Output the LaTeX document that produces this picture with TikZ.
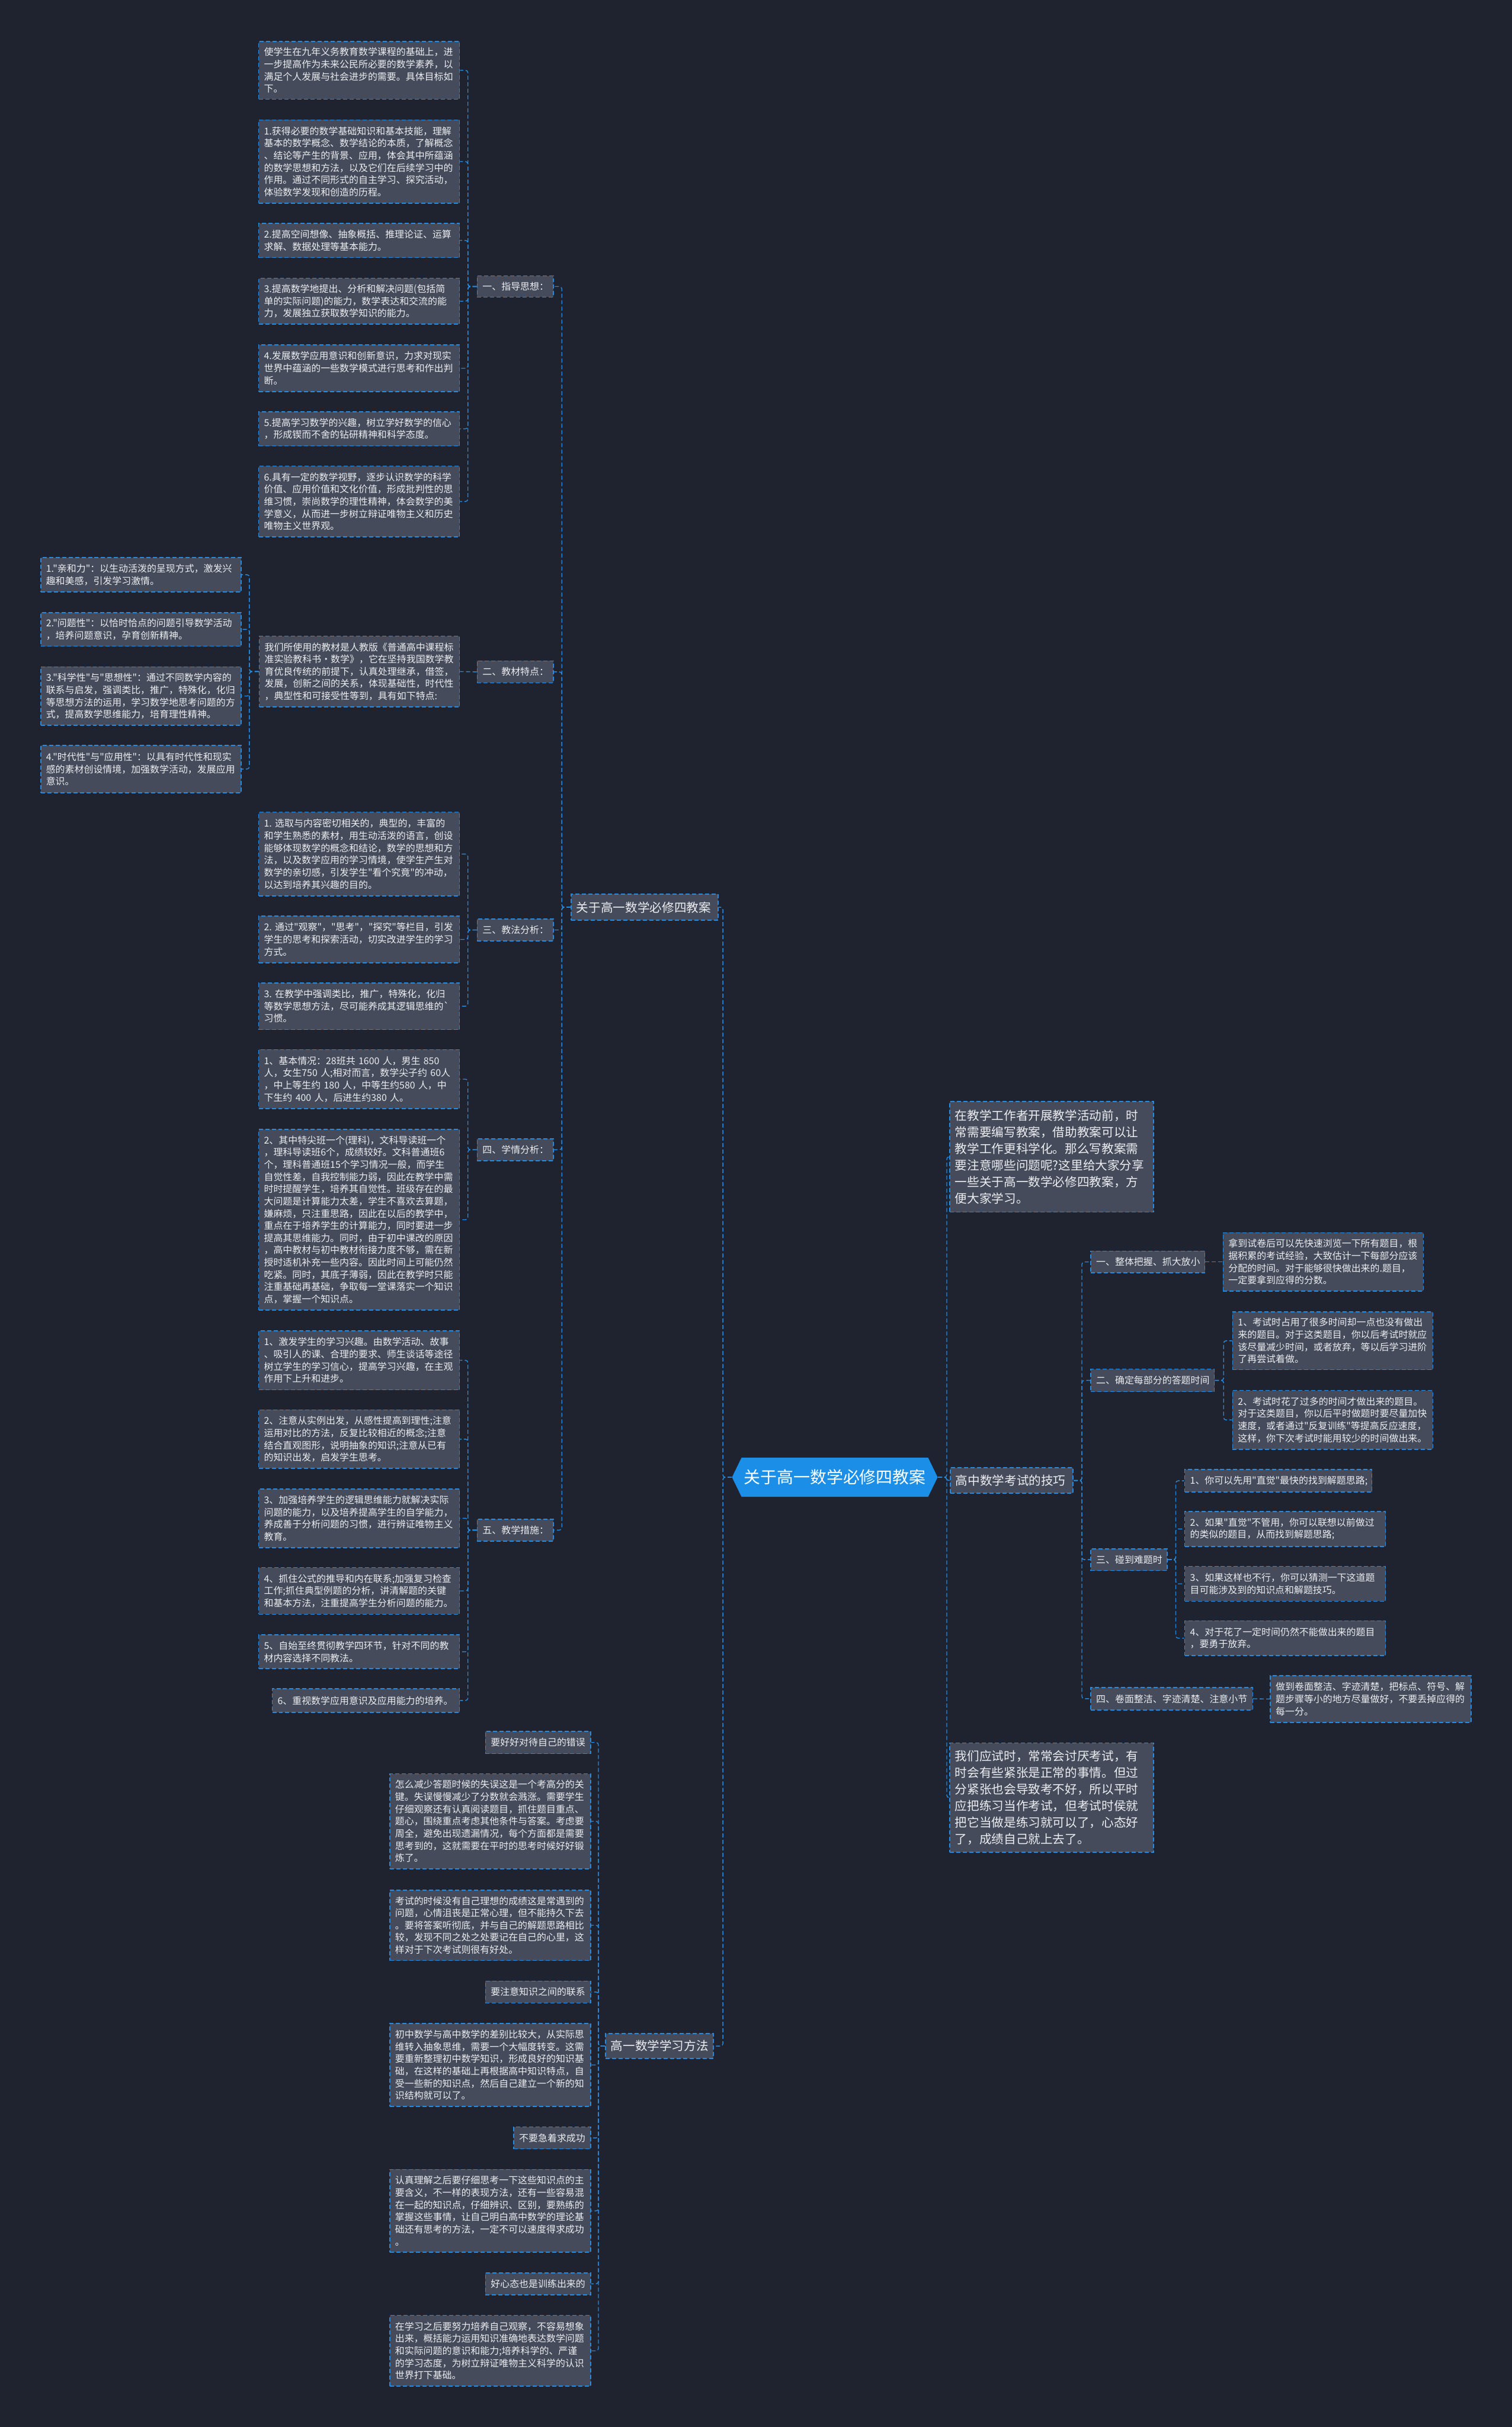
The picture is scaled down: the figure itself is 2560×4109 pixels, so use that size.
\documentclass[tikz,border=0pt]{standalone}
\usepackage{fontspec}
\newfontfamily\cjkf{Noto Sans CJK SC}
\usetikzlibrary{shapes.symbols}
\definecolor{bgc}{RGB}{31,35,47}
\definecolor{boxc}{RGB}{69,75,91}
\definecolor{linec}{RGB}{38,138,222}
\definecolor{txtc}{RGB}{235,237,240}
\definecolor{centc}{RGB}{27,143,232}
\newcommand\ftsmall{\cjkf\fontsize{8pt}{10.35pt}\selectfont}
\newcommand\ftmed{\cjkf\fontsize{10.35pt}{14pt}\selectfont}
\newcommand\ftbig{\cjkf\fontsize{14pt}{17pt}\selectfont}
\tikzset{
 box/.style={draw=linec, line width=0.8pt, dash pattern=on 3.5pt off 2pt, fill=boxc, text=txtc, font=\ftsmall, inner xsep=4.5pt, inner ysep=0pt, align=left, anchor=center},
 med/.style={font=\ftmed},
 conn/.style={draw=linec, line width=0.7pt, dash pattern=on 3.5pt off 2pt, rounded corners=2pt},
}
\newcommand\bx[7][]{\node[box,#1,text width=\fpeval{(#5-#3)/2-9}pt,minimum height={(#6-#4)*0.5pt}] (#2) at ({(#3+#5)/2},{(#4+#6)/2}) {#7};}
\begin{document}
\begin{tikzpicture}[x=0.5pt,y=-0.5pt]
\fill[bgc] (0,0) rectangle (2560,4109);
\useasboundingbox (0,0) rectangle (2560,4109);

% root
\node[signal, signal to=west and east, signal pointer angle=128, fill=centc, draw=none, text=white, font=\ftbig, minimum width=167.5pt, minimum height=33pt, inner xsep=2pt] (root) at (1413.5,2501) {关于高一数学必修四教案};

% level 1
\bx[med]{top1}{967}{1514}{1216}{1558}{关于高一数学必修四教案}
\bx[med]{top2}{1025}{3443}{1208}{3485}{高一数学学习方法}
\bx[med]{R1}{1608}{1865}{1953}{2052}{在教学工作者开展教学活动前，时\\常需要编写教案，借助教案可以让\\教学工作更科学化。那么写教案需\\要注意哪些问题呢?这里给大家分享\\一些关于高一数学必修四教案，方\\便大家学习。}
\bx[med]{R2}{1609}{2485}{1817}{2528}{高中数学考试的技巧}
\bx[med]{R3}{1608}{2951}{1953}{3136}{我们应试时，常常会讨厌考试，有\\时会有些紧张是正常的事情。但过\\分紧张也会导致考不好，所以平时\\应把练习当作考试，但考试时侯就\\把它当做是练习就可以了，心态好\\了，成绩自己就上去了。}

% group A
\bx{g1}{808}{467}{937}{503}{一、指导思想：}
\bx{A1}{438}{70}{778}{168}{使学生在九年义务教育数学课程的基础上，进\\一步提高作为未来公民所必要的数学素养，以\\满足个人发展与社会进步的需要。具体目标如\\下。}
\bx{A2}{438}{203}{778}{344}{1.获得必要的数学基础知识和基本技能，理解\\基本的数学概念、数学结论的本质，了解概念\\、结论等产生的背景、应用，体会其中所蕴涵\\的数学思想和方法，以及它们在后续学习中的\\作用。通过不同形式的自主学习、探究活动，\\体验数学发现和创造的历程。}
\bx{A3}{438}{378}{778}{436}{2.提高空间想像、抽象概括、推理论证、运算\\求解、数据处理等基本能力。}
\bx{A4}{438}{471}{778}{549}{3.提高数学地提出、分析和解决问题(包括简\\单的实际问题)的能力，数学表达和交流的能\\力，发展独立获取数学知识的能力。}
\bx{A5}{438}{584}{778}{663}{4.发展数学应用意识和创新意识，力求对现实\\世界中蕴涵的一些数学模式进行思考和作出判\\断。}
\bx{A6}{438}{697}{778}{755}{5.提高学习数学的兴趣，树立学好数学的信心\\，形成锲而不舍的钻研精神和科学态度。}
\bx{A7}{438}{789}{778}{909}{6.具有一定的数学视野，逐步认识数学的科学\\价值、应用价值和文化价值，形成批判性的思\\维习惯，崇尚数学的理性精神，体会数学的美\\学意义，从而进一步树立辩证唯物主义和历史\\唯物主义世界观。}

% group B
\bx{g2}{808}{1119}{937}{1156}{二、教材特点：}
\bx{Bm}{439}{1077}{778}{1197}{我们所使用的教材是人教版《普通高中课程标\\准实验教科书·数学》，它在坚持我国数学教\\育优良传统的前提下，认真处理继承，借签，\\发展，创新之间的关系，体现基础性，时代性\\，典型性和可接受性等到，具有如下特点:}
\bx{Ba}{69}{944}{408}{1002}{1."亲和力"：以生动活泼的呈现方式，激发兴\\趣和美感，引发学习激情。}
\bx{Bb}{69}{1037}{408}{1094}{2."问题性"：以恰时恰点的问题引导数学活动\\，培养问题意识，孕育创新精神。}
\bx{Bc}{69}{1129}{408}{1228}{3."科学性"与"思想性"：通过不同数学内容的\\联系与启发，强调类比，推广，特殊化，化归\\等思想方法的运用，学习数学地思考问题的方\\式，提高数学思维能力，培育理性精神。}
\bx{Bd}{69}{1262}{408}{1342}{4."时代性"与"应用性"：以具有时代性和现实\\感的素材创设情境，加强数学活动，发展应用\\意识。}

% group C
\bx{g3}{808}{1556}{937}{1593}{三、教法分析：}
\bx{C1}{438}{1375}{778}{1517}{1.~选取与内容密切相关的，典型的，丰富的\\和学生熟悉的素材，用生动活泼的语言，创设\\能够体现数学的概念和结论，数学的思想和方\\法，以及数学应用的学习情境，使学生产生对\\数学的亲切感，引发学生"看个究竟"的冲动，\\以达到培养其兴趣的目的。}
\bx{C2}{438}{1551}{778}{1630}{2.~通过"观察"，"思考"，"探究"等栏目，引发\\学生的思考和探索活动，切实改进学生的学习\\方式。}
\bx{C3}{438}{1664}{778}{1743}{3.~在教学中强调类比，推广，特殊化，化归\\等数学思想方法，尽可能养成其逻辑思维的`\\习惯。}

% group D
\bx{g4}{808}{1928}{937}{1965}{四、学情分析：}
\bx{D1}{438}{1777}{778}{1877}{1、基本情况：28班共~1600~人，男生~850\\人，女生750~人;相对而言，数学尖子约~60人\\，中上等生约~180~人，中等生约580~人，中\\下生约~400~人，后进生约380~人。}
\bx{D2}{438}{1912}{778}{2218}{2、其中特尖班一个(理科)，文科导读班一个\\，理科导读班6个，成绩较好。文科普通班6\\个，理科普通班15个学习情况一般，而学生\\自觉性差，自我控制能力弱，因此在教学中需\\时时提醒学生，培养其自觉性。班级存在的最\\大问题是计算能力太差，学生不喜欢去算题，\\嫌麻烦，只注重思路，因此在以后的教学中，\\重点在于培养学生的计算能力，同时要进一步\\提高其思维能力。同时，由于初中课改的原因\\，高中教材与初中教材衔接力度不够，需在新\\授时适机补充一些内容。因此时间上可能仍然\\吃紧。同时，其底子薄弱，因此在教学时只能\\注重基础再基础，争取每一堂课落实一个知识\\点，掌握一个知识点。}

% group E
\bx{g5}{808}{2572}{937}{2609}{五、教学措施：}
\bx{E1}{438}{2253}{778}{2353}{1、激发学生的学习兴趣。由数学活动、故事\\、吸引人的课、合理的要求、师生谈话等途径\\树立学生的学习信心，提高学习兴趣，在主观\\作用下上升和进步。}
\bx{E2}{438}{2387}{778}{2486}{2、注意从实例出发，从感性提高到理性;注意\\运用对比的方法，反复比较相近的概念;注意\\结合直观图形，说明抽象的知识;注意从已有\\的知识出发，启发学生思考。}
\bx{E3}{438}{2521}{778}{2620}{3、加强培养学生的逻辑思维能力就解决实际\\问题的能力，以及培养提高学生的自学能力，\\养成善于分析问题的习惯，进行辨证唯物主义\\教育。}
\bx{E4}{438}{2654}{778}{2733}{4、抓住公式的推导和内在联系;加强复习检查\\工作;抓住典型例题的分析，讲清解题的关键\\和基本方法，注重提高学生分析问题的能力。}
\bx{E5}{438}{2768}{778}{2825}{5、自始至终贯彻教学四环节，针对不同的教\\材内容选择不同教法。}
\bx{E6}{461}{2859}{778}{2899}{6、重视数学应用意识及应用能力的培养。}

% group F
\bx{F1}{822}{2931}{1000}{2969}{要好好对待自己的错误}
\bx{F2}{660}{3003}{1000}{3164}{怎么减少答题时候的失误这是一个考高分的关\\键。失误慢慢减少了分数就会溅涨。需要学生\\仔细观察还有认真阅读题目，抓住题目重点、\\题心，围绕重点考虑其他条件与答案。考虑要\\周全，避免出现遗漏情况，每个方面都是需要\\思考到的，这就需要在平时的思考时候好好锻\\炼了。}
\bx{F3}{660}{3200}{1000}{3319}{考试的时候没有自己理想的成绩这是常遇到的\\问题，心情沮丧是正常心理，但不能持久下去\\。要将答案听彻底，并与自己的解题思路相比\\较，发现不同之处之处要记在自己的心里，这\\样对于下次考试则很有好处。}
\bx{F4}{822}{3354}{1000}{3391}{要注意知识之间的联系}
\bx{F5}{660}{3426}{1000}{3566}{初中数学与高中数学的差别比较大，从实际思\\维转入抽象思维，需要一个大幅度转变。这需\\要重新整理初中数学知识，形成良好的知识基\\础，在这样的基础上再根据高中知识特点，自\\受一些新的知识点，然后自己建立一个新的知\\识结构就可以了。}
\bx{F6}{870}{3601}{1000}{3638}{不要急着求成功}
\bx{F7}{660}{3673}{1000}{3813}{认真理解之后要仔细思考一下这些知识点的主\\要含义，不一样的表现方法，还有一些容易混\\在一起的知识点，仔细辨识、区别，要熟练的\\掌握这些事情，让自己明白高中数学的理论基\\础还有思考的方法，一定不可以速度得求成功\\。}
\bx{F8}{822}{3848}{1000}{3885}{好心态也是训练出来的}
\bx{F9}{660}{3920}{1000}{4040}{在学习之后要努力培养自己观察，不容易想象\\出来，概括能力运用知识准确地表达数学问题\\和实际问题的意识和能力;培养科学的、严谨\\的学习态度，为树立辩证唯物主义科学的认识\\世界打下基础。}

% group K
\bx{K1}{1847}{2118}{2040}{2155}{一、整体把握、抓大放小}
\bx{K1a}{2071}{2087}{2410}{2186}{拿到试卷后可以先快速浏览一下所有题目，根\\据积累的考试经验，大致估计一下每部分应该\\分配的时间。对于能够很快做出来的.题目，\\一定要拿到应得的分数。}
\bx{K2}{1847}{2318}{2056}{2356}{二、确定每部分的答题时间}
\bx{K2a}{2087}{2221}{2426}{2319}{1、考试时占用了很多时间却一点也没有做出\\来的题目。对于这类题目，你以后考试时就应\\该尽量减少时间，或者放弃，等以后学习进阶\\了再尝试着做。}
\bx{K2b}{2087}{2354}{2426}{2454}{2、考试时花了过多的时间才做出来的题目。\\对于这类题目，你以后平时做题时要尽量加快\\速度，或者通过"反复训练"等提高反应速度，\\这样，你下次考试时能用较少的时间做出来。}
\bx{K3}{1847}{2622}{1976}{2659}{三、碰到难题时}
\bx{K3a}{2006}{2488}{2323}{2526}{1、你可以先用"直觉"最快的找到解题思路;}
\bx{K3b}{2006}{2559}{2346}{2618}{2、如果"直觉"不管用，你可以联想以前做过\\的类似的题目，从而找到解题思路;}
\bx{K3c}{2006}{2652}{2346}{2711}{3、如果这样也不行，你可以猜测一下这道题\\目可能涉及到的知识点和解题技巧。}
\bx{K3d}{2006}{2744}{2346}{2803}{4、对于花了一定时间仍然不能做出来的题目\\，要勇于放弃。}
\bx{K4}{1847}{2857}{2121}{2895}{四、卷面整洁、字迹清楚、注意小节}
\bx{K4a}{2151}{2837}{2491}{2916}{做到卷面整洁、字迹清楚，把标点、符号、解\\题步骤等小的地方尽量做好，不要丢掉应得的\\每一分。}

% connectors
\foreach \c in {top1,top2} \draw[conn] (root.west) -- ++(-15,0) |- (\c.east);
\foreach \c in {R1,R2,R3} \draw[conn] (root.east) -- ++(15,0) |- (\c.west);
\foreach \c in {g1,g2,g3,g4,g5} \draw[conn] (top1.west) -- ++(-15,0) |- (\c.east);
\foreach \c in {A1,A2,A3,A4,A5,A6,A7} \draw[conn] (g1.west) -- ++(-15,0) |- (\c.east);
\draw[conn] (g2.west) -- (Bm.east);
\foreach \c in {Ba,Bb,Bc,Bd} \draw[conn] (Bm.west) -- ++(-16,0) |- (\c.east);
\foreach \c in {C1,C2,C3} \draw[conn] (g3.west) -- ++(-15,0) |- (\c.east);
\foreach \c in {D1,D2} \draw[conn] (g4.west) -- ++(-15,0) |- (\c.east);
\foreach \c in {E1,E2,E3,E4,E5,E6} \draw[conn] (g5.west) -- ++(-15,0) |- (\c.east);
\foreach \c in {F1,F2,F3,F4,F5,F6,F7,F8,F9} \draw[conn] (top2.west) -- ++(-11,0) |- (\c.east);
\foreach \c in {K1,K2,K3,K4} \draw[conn] (R2.east) -- ++(14,0) |- (\c.west);
\draw[conn] (K1.east) -- (K1a.west);
\foreach \c in {K2a,K2b} \draw[conn] (K2.east) -- ++(15,0) |- (\c.west);
\foreach \c in {K3a,K3b,K3c,K3d} \draw[conn] (K3.east) -- ++(14,0) |- (\c.west);
\draw[conn] (K4.east) -- (K4a.west);
\end{tikzpicture}
\end{document}
